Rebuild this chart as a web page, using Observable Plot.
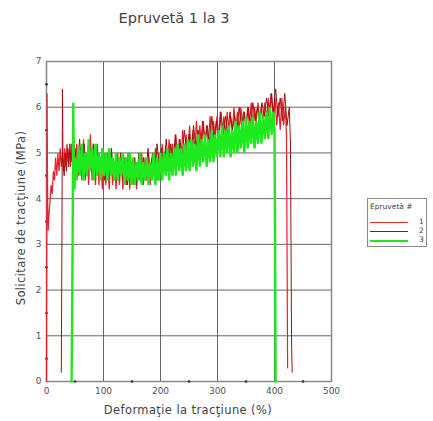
<!DOCTYPE html>
<html>
<head>
<meta charset="utf-8">
<script src="https://cdn.jsdelivr.net/npm/d3@7"></script>
<script src="https://cdn.jsdelivr.net/npm/@observablehq/plot@0.6"></script>
<style>
  body { margin: 0; background: #fff; }
  #wrap { position: relative; width: 433px; height: 421px; font-family: "DejaVu Sans", sans-serif; }
  .abs { position: absolute; white-space: nowrap; color: #444; line-height: 1.2; }
</style>
</head>
<body>
<div id="wrap"></div>
<script>
const title = "Epruvetă 1 la 3";
const xLabel = "Deformaţie la tracţiune (%)";
const yLabel = "Solicitare de tracţiune (MPa)";
const legendTitle = "Epruvetă #";
const seriesNames = ["1", "2", "3"];
const seriesColors = ["#e8202a", "#9e1010", "#1ee81e"];
const xTicks = [0, 100, 200, 300, 400, 500];
const yTicks = [0, 1, 2, 3, 4, 5, 6, 7];
const xMinor = [50, 150, 250, 350, 450];
const yMinor = [0.5, 1.5, 2.5, 3.5, 4.5, 5.5, 6.5];

// Epruveta 1 (red)
const s1 = [[0,0],[1,6.3],[2,4.0],[3,3.3],[4,3.6],[6,3.9],[8,4.3],[10,4.1],[12,4.6],[14,4.4],[16,4.9],[18,4.5],[20,5.0],[22,4.6],[24,5.1],[26,4.7],[28,5.0],[30,4.6],[32,5.1],[34,4.7],[36,5.2],[38,4.8],[40,5.1],[42,4.7],[44,5.2],[46,4.8],[48,5.3],
[50,4.6],[53,5.2],[56,4.5],[59,5.1],[62,4.4],[65,5.3],[68,4.4],[71,5.0],[74,4.3],[77,5.4],[80,4.4],[83,5.0],[86,4.3],[89,5.2],[92,4.3],[95,4.9],[98,4.2],[101,5.0],[104,4.3],[107,4.9],[110,4.2],[113,5.0],[116,4.3],[119,4.8],[122,4.2],[125,5.0],[128,4.3],[131,4.9],[134,4.2],[137,4.8],[140,4.3],[143,5.0],[146,4.2],[149,4.8],[152,4.3],[155,4.9],[158,4.2],[161,4.8],[164,4.4],[167,5.0],[170,4.3],[173,4.9],[176,4.4],[179,5.0],[182,4.3],[185,4.9],[188,4.5],[191,5.1],[194,4.4],[197,5.0],[200,4.5],[203,5.2],[206,4.6],[209,5.1],[212,4.6],[215,5.3],[218,4.7],[221,5.2],[224,4.7],[227,5.4],[230,4.8],[233,5.3],[236,4.8],[239,5.5],[242,4.9],[245,5.4],[248,4.9],[251,5.6],[254,5.0],[257,5.5],[260,5.0],[263,5.7],[266,5.1],[269,5.6],[272,5.1],[275,5.7],[278,5.2],[281,5.6],[284,5.2],[287,5.8],[290,5.2],[293,5.7],[296,5.3],[299,5.8],[302,5.3],[305,5.9],[308,5.3],[311,5.8],[314,5.4],[317,5.9],[320,5.4],[323,5.8],[326,5.5],[329,6.0],[332,5.5],[335,5.9],[338,5.5],[341,6.0],[344,5.6],[347,5.9],[350,5.5],[353,6.0],[356,5.6],[359,6.1],[362,5.6],[365,6.0],[368,5.7],[371,6.1],[374,5.7],[377,6.0],[380,5.6],[383,6.1],[386,5.7],[389,6.2],[392,5.8],[395,6.3],[398,5.7],[401,6.2],[404,5.6],[407,6.1],[410,5.5],[413,6.2],[416,5.6],[419,6.0],[421,5.4],[422,3.0],[423,0.3]];

// Epruveta 2 (dark red)
const s2 = [[26,0.2],[27,3.0],[28,6.4],[29,4.8],[31,4.5],[33,5.0],[35,4.6],[37,5.1],[39,4.7],[41,5.2],[43,4.8],[45,5.0],[47,4.7],
[50,5.1],[54,4.6],[58,5.3],[62,4.7],[66,5.2],[70,4.5],[74,5.1],[78,4.6],[82,5.2],[86,4.5],[90,5.0],[94,4.5],[98,5.1],[102,4.4],[106,5.0],[110,4.5],[114,5.1],[118,4.4],[122,4.9],[126,4.4],[130,5.0],[134,4.4],[138,4.9],[142,4.3],[146,5.0],[150,4.4],[154,4.9],[158,4.3],[162,5.0],[166,4.4],[170,4.9],[174,4.4],[178,5.1],[182,4.5],[186,5.0],[190,4.5],[194,5.2],[198,4.6],[202,5.1],[206,4.7],[210,5.3],[214,4.7],[218,5.2],[222,4.8],[226,5.4],[230,4.8],[234,5.3],[238,4.9],[242,5.5],[246,5.0],[250,5.4],[254,5.0],[258,5.6],[262,5.1],[266,5.5],[270,5.1],[274,5.7],[278,5.2],[282,5.6],[286,5.2],[290,5.8],[294,5.3],[298,5.7],[302,5.3],[306,5.9],[310,5.4],[314,5.8],[318,5.4],[322,5.9],[326,5.5],[330,5.8],[334,5.5],[338,6.0],[342,5.6],[346,5.9],[350,5.6],[354,6.0],[358,5.6],[362,6.1],[366,5.7],[370,6.0],[374,5.7],[378,6.1],[382,5.8],[386,6.2],[390,5.8],[394,6.3],[398,5.9],[402,6.4],[406,5.8],[410,6.2],[414,5.7],[418,6.3],[422,5.6],[426,6.0],[428,5.2],[429,3.0],[430,0.8],[431,0.2]];

// Epruveta 3 (green)
const s3 = [[44,0],[45,1.5],[46,3.5],[47,6.1],[48,4.6],[49,4.2],
[50,4.9],[53,4.4],[56,5.1],[59,4.5],[62,5.2],[65,4.4],[68,5.0],[71,4.5],[74,5.3],[77,4.6],[80,5.1],[83,4.4],[86,5.2],[89,4.5],[92,5.0],[95,4.4],[98,5.1],
[101,4.5],[104,5.0],[107,4.4],[110,5.1],[113,4.5],[116,4.9],[119,4.4],[122,5.0],[125,4.4],[128,4.9],[131,4.5],[134,5.0],[137,4.3],[140,4.9],[143,4.4],[146,5.0],[149,4.3],
[152,4.9],[155,4.3],[158,4.8],[161,4.4],[164,5.0],[167,4.3],[170,4.8],[173,4.4],[176,4.9],[179,4.3],[182,4.8],[185,4.4],[188,5.0],[191,4.3],[194,4.9],[197,4.4],[200,5.0],
[203,4.4],[206,5.0],[209,4.5],[212,5.1],[215,4.4],[218,5.0],[221,4.5],[224,5.1],[227,4.5],[230,5.2],[233,4.6],[236,5.1],[239,4.5],[242,5.2],[245,4.6],[248,5.3],
[251,4.6],[254,5.3],[257,4.7],[260,5.2],[263,4.6],[266,5.4],[269,4.7],[272,5.3],[275,4.8],[278,5.4],[281,4.7],[284,5.3],[287,4.8],[290,5.5],[293,4.8],[296,5.4],[299,4.9],
[302,5.5],[305,4.9],[308,5.6],[311,4.9],[314,5.5],[317,5.0],[320,5.6],[323,4.9],[326,5.5],[329,5.0],[332,5.7],[335,5.0],[338,5.6],[341,5.1],[344,5.7],[347,5.0],[350,5.8],
[353,5.1],[356,5.7],[359,5.2],[362,5.8],[365,5.1],[368,5.7],[371,5.2],[374,5.9],[377,5.2],[380,5.8],[383,5.3],[386,5.9],[389,5.3],[392,6.0],[395,5.4],[398,5.9],[400,5.5],[401,3.0],[402,0]];

const series = [s1, s2, s3];
const widths = [1.2, 1, 2.4];
const rows = series.flatMap((s, i) => s.map(([x, y]) => ({x, y, k: seriesNames[i]})));

const chart = Plot.plot({
  width: 433,
  height: 421,
  marginLeft: 46,
  marginRight: 102,
  marginTop: 61,
  marginBottom: 40,
  style: {fontFamily: "DejaVu Sans, sans-serif", fontSize: "9px", color: "#555", background: "#fff"},
  x: {domain: [0, 500], ticks: xTicks, tickSize: 0, tickPadding: 6, label: null, tickFormat: d3.format("d")},
  y: {domain: [0, 7], ticks: yTicks, tickSize: 0, tickPadding: 5, label: null, tickFormat: d3.format("d")},
  color: {domain: seriesNames, range: seriesColors},
  marks: [
    Plot.gridX(xTicks, {stroke: "#555", strokeOpacity: 0.9, strokeWidth: 1}),
    Plot.gridY(yTicks, {stroke: "#555", strokeOpacity: 0.9, strokeWidth: 1}),
    Plot.frame({stroke: "#888", strokeWidth: 1.5}),
    Plot.dot(xMinor, {x: d => d, y: 0, r: 1.3, fill: "#333", stroke: null}),
    Plot.dot(yMinor, {x: 0, y: d => d, r: 1.3, fill: "#333", stroke: null}),
    ...series.map((s, i) => Plot.line(rows.filter(r => r.k === seriesNames[i]), {x: "x", y: "y", stroke: seriesColors[i], strokeWidth: widths[i], strokeLinejoin: "miter", strokeMiterlimit: 2, curve: "linear"}))
  ]
});

const wrap = document.getElementById("wrap");
wrap.appendChild(chart);

function addText(txt, css) {
  const d = document.createElement("div");
  d.className = "abs";
  d.textContent = txt;
  Object.assign(d.style, css);
  wrap.appendChild(d);
  return d;
}
addText(title, {left: "174px", top: "10px", transform: "translateX(-50%)", fontSize: "14.5px", color: "#444"});
addText(xLabel, {left: "188px", top: "404px", transform: "translateX(-50%)", fontSize: "11.5px", letterSpacing: "0.4px", color: "#444"});
addText(yLabel, {left: "22px", top: "218px", transform: "translate(-50%,-50%) rotate(-90deg)", fontSize: "11.5px", letterSpacing: "0.4px", color: "#444"});

// legend
const leg = document.createElement("div");
Object.assign(leg.style, {position: "absolute", left: "367px", top: "198px", width: "60px", height: "49px", border: "1px solid #888", boxSizing: "border-box", fontSize: "7.5px", color: "#444", background: "#fff"});
wrap.appendChild(leg);
const lt = document.createElement("div");
lt.textContent = legendTitle;
Object.assign(lt.style, {position: "absolute", left: "2px", top: "3px", whiteSpace: "nowrap"});
leg.appendChild(lt);
seriesNames.forEach((n, i) => {
  const ln = document.createElement("div");
  Object.assign(ln.style, {position: "absolute", left: "2px", top: (23 + i * 9) + "px", width: "38px", height: "0", borderTop: (i === 2 ? 2 : 1.5) + "px solid " + seriesColors[i]});
  leg.appendChild(ln);
  const tx = document.createElement("div");
  tx.textContent = n;
  Object.assign(tx.style, {position: "absolute", left: "51px", top: (18 + i * 9) + "px"});
  leg.appendChild(tx);
});
</script>
</body>
</html>
